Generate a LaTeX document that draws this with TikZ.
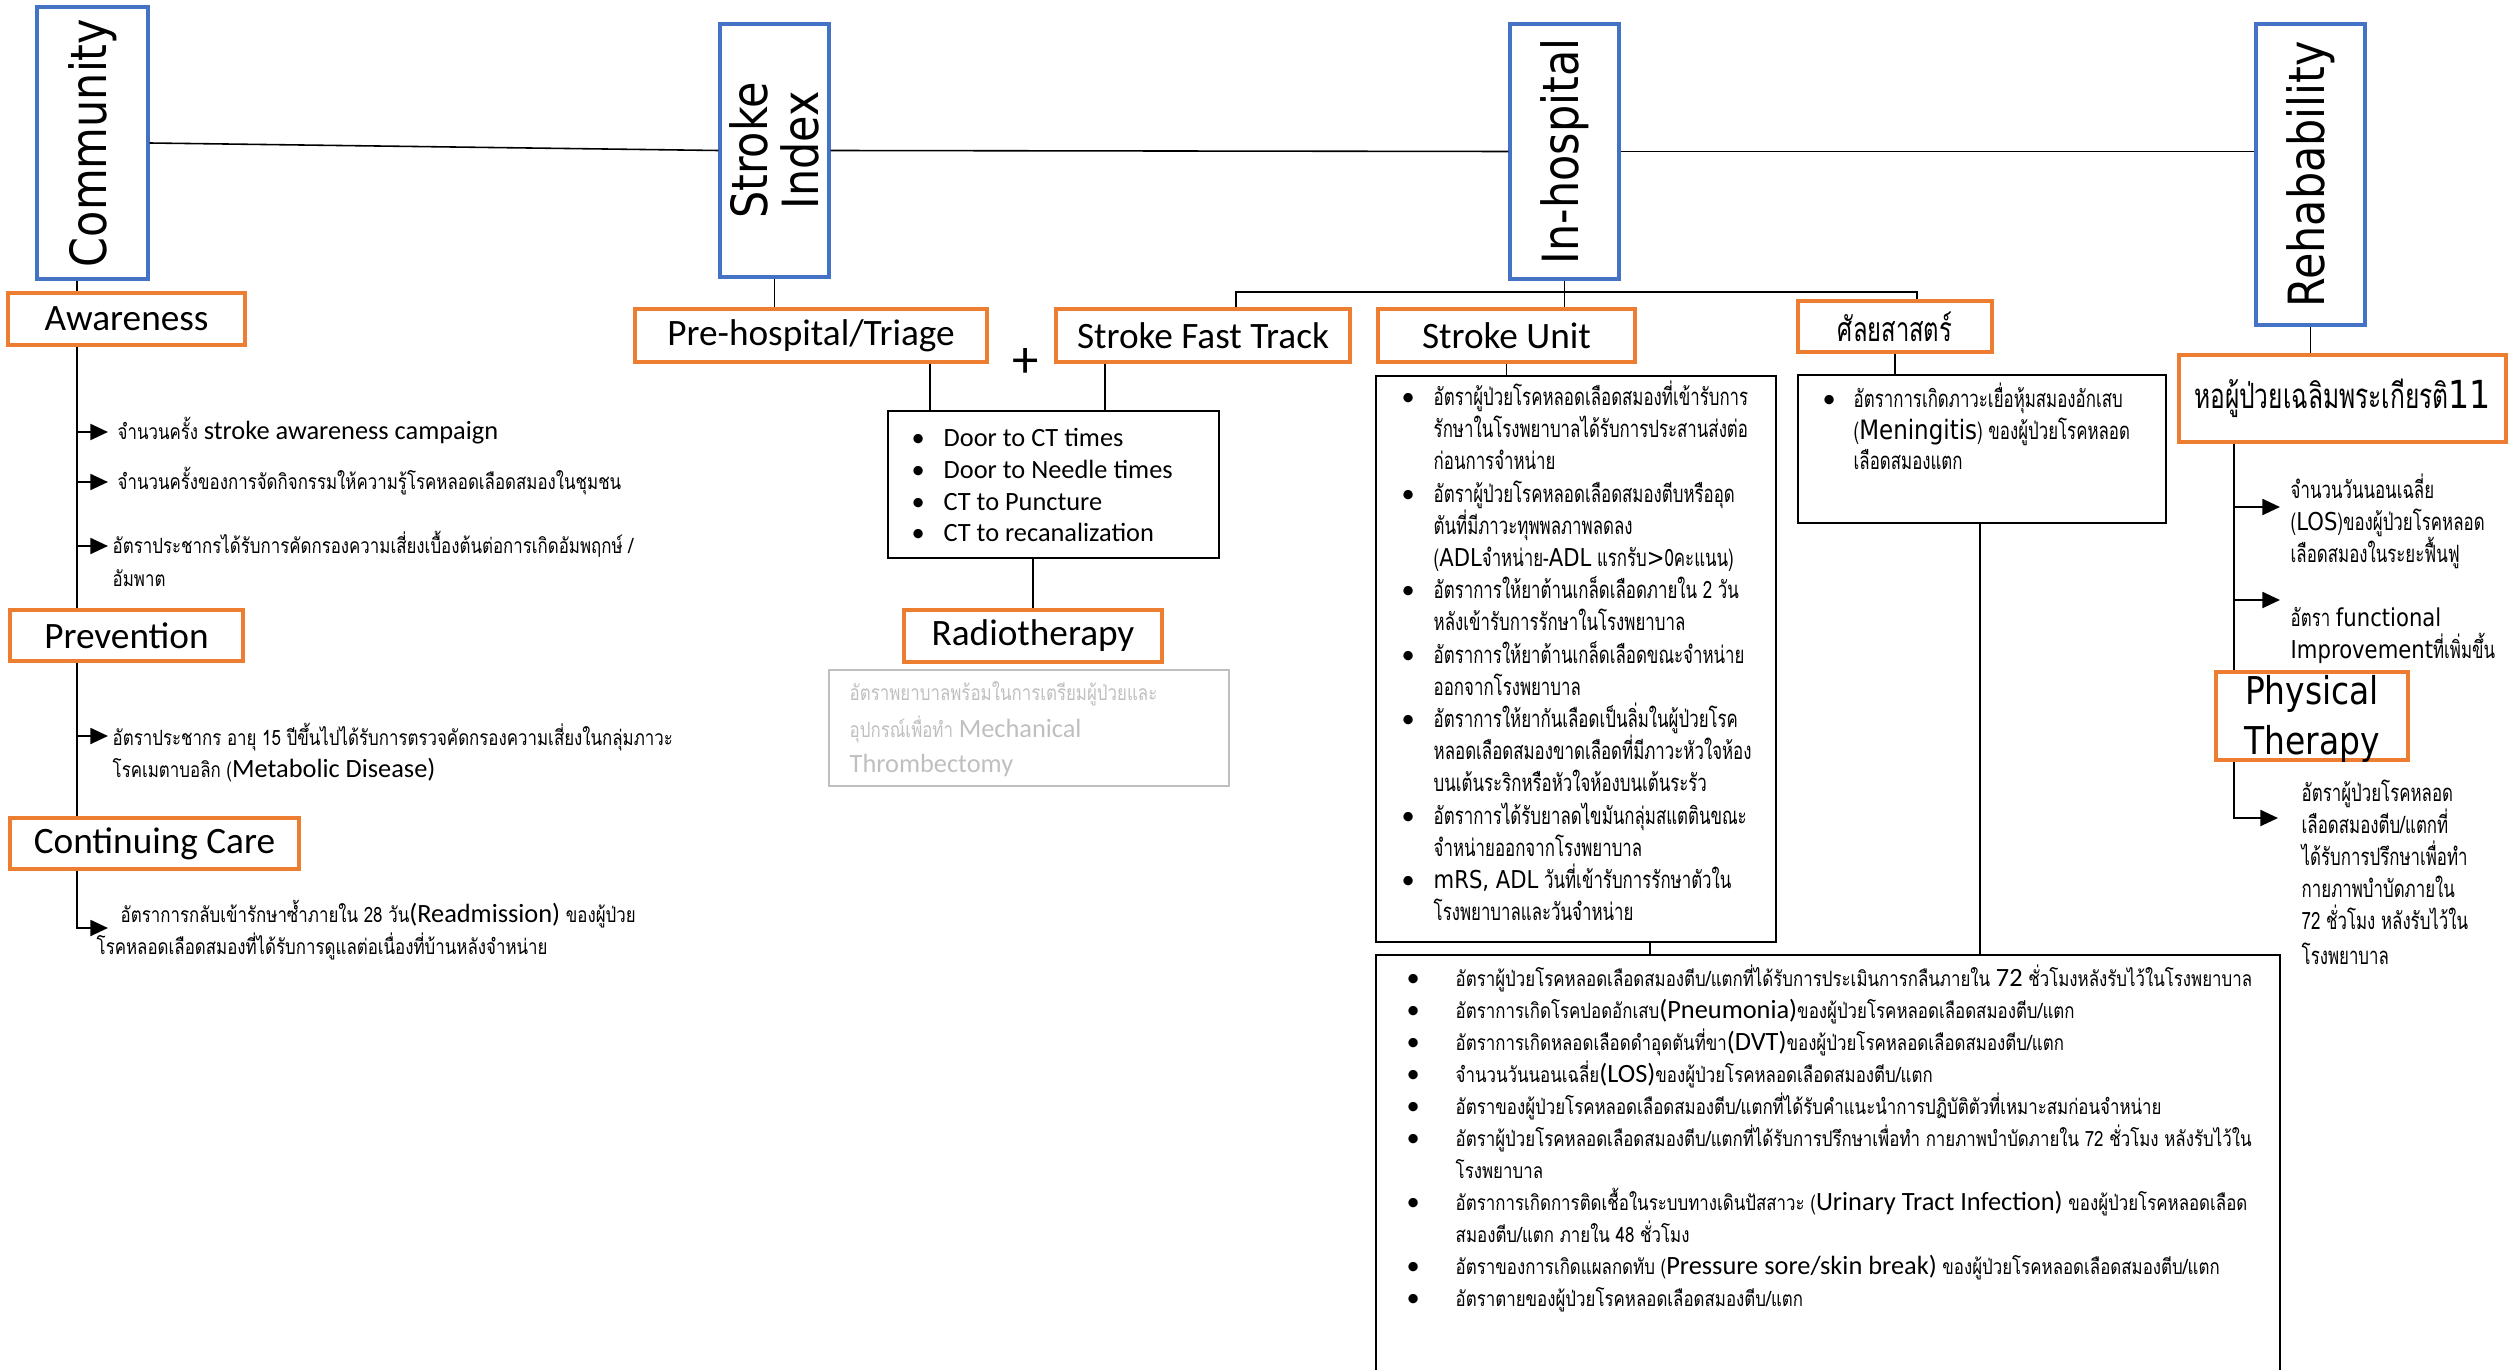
\documentclass[tikz,border=0pt]{standalone}
\usepackage{fontspec}
\usetikzlibrary{arrows.meta,fit}
\newfontfamily\tahF[FakeStretch=0.86]{DejaVu Sans}
\newfontfamily\calF{Carlito}
\newfontfamily\thaiF[Script=Thai,FakeStretch=0.705]{Loma}
\newfontfamily\thaicF[Script=Thai,FakeStretch=0.8]{Loma}
\definecolor{bblue}{HTML}{4472C4}
\definecolor{borange}{HTML}{ED7D31}
\definecolor{lgrey}{HTML}{BFBFBF}
\newcommand\enC[1]{{\calF\fontsize{7.5}{9}\selectfont #1}}
\newcommand\enT[1]{{\tahF\fontsize{7}{9}\selectfont #1}}
\newcommand\putline[4]{\node[txt,#3] (#1) at #2 {#4};}
\newcommand\bitem[6]{\node[bul] (#1b) at (#2,#4) {\textbullet};\node[txt,#5] (#1) at (#3,#4) {#6};}
\tikzset{
 bluebox/.style={draw=bblue, line width=0.9pt, inner sep=0pt},
 orbox/.style={draw=borange, line width=0.9pt, inner sep=0pt},
 olab/.style={inner sep=0pt, font=\calF\fontsize{10.6}{12}\selectfont},
 blkbox/.style={draw=black, line width=0.7pt, inner sep=0pt},
 grbox/.style={draw=lgrey, line width=0.7pt, inner sep=0pt},
 conn/.style={black, line width=0.45pt},
 arr/.style={black, line width=0.7pt, -{Triangle[length=5pt,width=4.5pt]}},
 txt/.style={inner sep=0pt, anchor=base west},
 vlab/.style={rotate=90, inner sep=0pt, font=\tahF\fontsize{14.2}{14.6}\selectfont, align=center},
 thc/.style={font=\thaicF\fontsize{6}{7}\selectfont},
 th/.style={font=\thaiF\fontsize{6.8}{7}\selectfont},
 bul/.style={inner sep=0pt, anchor=base west, font=\calF\fontsize{7.5}{9}\selectfont},
 doorf/.style={font=\calF\fontsize{7.5}{9}\selectfont},
}
\begin{document}
\begin{tikzpicture}[x=0.1mm,y=-0.1mm]
\useasboundingbox (0,0) rectangle (2509,1370);
% top level boxes
\node[bluebox, fit={(37,7)(148,279)}] (community) {};
\node[vlab] (communityT) at (community.center) {Community};
\node[bluebox, fit={(720,24)(829,277)}] (strokeidx) {};
\node[vlab] (strokeidxT) at (strokeidx.center) {Stroke\\Index};
\node[bluebox, fit={(1510,24)(1619,279)}] (inhosp) {};
\node[vlab] (inhospT) at (inhosp.center) {In-hospital};
\node[bluebox, fit={(2256,24)(2365,325)}] (rehab) {};
\node[vlab] (rehabT) at (rehab.center) {Rehabability};
\draw[conn] (community.east) -- (strokeidx.west);
\draw[conn] (strokeidx.east) -- (inhosp.west);
\draw[conn] (inhosp.east) -- (inhosp.east -| rehab.west);

% left column
\node[orbox, fit={(8,293)(245,345)}] (aware) {};
\node[olab] (awareT) at (aware.center) {Awareness};
\node[orbox, fit={(10,610)(243,661)}] (prev) {};
\node[olab] (prevT) at (prev.center) {Prevention};
\node[orbox, fit={(10,818)(299,869)}] (cont) {};
\node[olab] (contT) at (cont.center) {Continuing Care};
\coordinate (spine) at (77,0);
\draw[conn] (spine |- community.south) -- (spine |- aware.north);
\draw[conn] (spine |- aware.south) -- (spine |- prev.north);
\draw[conn] (spine |- prev.south) -- (spine |- cont.north);
\coordinate (a1) at (108,432);
\coordinate (a2) at (108,482);
\coordinate (a3) at (108,546);
\coordinate (a4) at (108,736);
\coordinate (a5) at (108,928);
\draw[arr] (spine |- a1) -- (a1);
\draw[arr] (spine |- a2) -- (a2);
\draw[arr] (spine |- a3) -- (a3);
\draw[arr] (spine |- a4) -- (a4);
\draw[arr] (spine |- cont.south) |- (a5);
\putline{l1}{(117,439)}{thc}{จำนวนครั้ง \enC{stroke awareness campaign}}
\putline{l2}{(117,489)}{thc}{จำนวนครั้งของการจัดกิจกรรมให้ความรู้โรคหลอดเลือดสมองในชุมชน}
\putline{l3}{(112,553)}{thc}{อัตราประชากรได้รับการคัดกรองความเสี่ยงเบื้องต้นต่อการเกิดอัมพฤกษ์ /}
\putline{l3b}{(112,586)}{thc}{อัมพาต}
\putline{p1}{(112,745)}{thc}{อัตราประชากร อายุ 15 ปีขึ้นไปได้รับการตรวจคัดกรองความเสี่ยงในกลุ่มภาวะ}
\putline{p2}{(112,777)}{thc}{โรคเมตาบอลิก (\enC{Metabolic Disease)}}
\putline{c1}{(120,922)}{thc}{อัตราการกลับเข้ารักษาซ้ำภายใน 28 วัน\enC{(Readmission)} ของผู้ป่วย}
\putline{c2}{(96,954)}{thc}{โรคหลอดเลือดสมองที่ได้รับการดูแลต่อเนื่องที่บ้านหลังจำหน่าย}

% stroke index branch
\node[orbox, fit={(635,309)(987,362)}] (pre) {};
\node[olab] (preT) at (pre.center) {Pre-hospital/Triage};
\node[orbox, fit={(1056,309)(1350,362)}] (sft) {};
\node[olab] (sftT) at (sft.center) {Stroke Fast Track};
\node[inner sep=0pt, font=\calF\fontsize{15}{15}\selectfont] (plus) at (1026,363) {+};
\node[blkbox, fit={(888,411)(1219,558)}] (door) {};
\node[orbox, fit={(904,610)(1162,662)}] (radio) {};
\node[olab] (radioT) at (radio.center) {Radiotherapy};
\node[grbox, fit={(829,670)(1229,786)}] (grey) {};
\draw[conn] (strokeidx.south) -- (strokeidx.south |- pre.north);
\coordinate (dA) at (930,0);
\coordinate (dB) at (1105,0);
\draw[conn] (dA |- pre.south) -- (dA |- door.north);
\draw[conn] (dB |- sft.south) -- (dB |- door.north);
\draw[conn] (radio.north |- door.south) -- (radio.north);
\bitem{d1}{911}{943}{446}{doorf}{Door to CT times}
\bitem{d2}{911}{943}{478}{doorf}{Door to Needle times}
\bitem{d3}{911}{943}{510}{doorf}{CT to Puncture}
\bitem{d4}{911}{943}{541}{doorf}{CT to recanalization}
\putline{g1}{(849,700)}{thc,text=lgrey}{อัตราพยาบาลพร้อมในการเตรียมผู้ป่วยและ}
\putline{g2}{(849,737)}{thc,text=lgrey}{อุปกรณ์เพื่อทำ \enC{Mechanical}}
\putline{g3}{(849,772)}{thc,text=lgrey}{\enC{Thrombectomy}}

% in-hospital branch
\node[orbox, fit={(1378,309)(1635,362)}] (su) {};
\node[olab] (suT) at (su.center) {Stroke Unit};
\node[orbox, fit={(1798,301)(1992,352)}] (surg) {};
\node[olab, font=\thaiF\fontsize{9.6}{10}\selectfont] (surgT) at (surg.center) {ศัลยสาสตร์};
\coordinate (brL) at (1236,292);
\coordinate (brR) at (1917,292);
\draw[conn] (inhosp.south) -- (inhosp.south |- su.north);
\draw[conn] (brL |- sft.north) -- (brL) -- (brR) -- (brR |- surg.north);
\node[blkbox, fit={(1376,376)(1776,942)}] (sulist) {};
\node[blkbox, fit={(1798,375)(2166,523)}] (surglist) {};
\node[blkbox, fit={(1376,955)(2280,1380)}] (big) {};
\draw[conn] (su.south) -- (su.south |- sulist.north);
\draw[conn] (surg.south) -- (surg.south |- surglist.north);
\coordinate (bA) at (1650,0);
\coordinate (bB) at (1980,0);
\draw[conn] (bA |- sulist.south) -- (bA |- big.north);
\draw[conn] (bB |- surglist.south) -- (bB |- big.north);

\bitem{s1}{1401}{1433}{405}{th}{อัตราผู้ป่วยโรคหลอดเลือดสมองที่เข้ารับการ}
\putline{s2}{(1433,437)}{th}{รักษาในโรงพยาบาลได้รับการประสานส่งต่อ}
\putline{s3}{(1433,469)}{th}{ก่อนการจำหน่าย}
\bitem{s4}{1401}{1433}{502}{th}{อัตราผู้ป่วยโรคหลอดเลือดสมองตีบหรืออุด}
\putline{s5}{(1433,534)}{th}{ตันที่มีภาวะทุพพลภาพลดลง}
\putline{s6}{(1433,566)}{th}{(\enT{ADL}จำหน่าย-\enT{ADL} แรกรับ\enT{>}0คะแนน)}
\bitem{s7}{1401}{1433}{598}{th}{อัตราการให้ยาต้านเกล็ดเลือดภายใน 2 วัน}
\putline{s8}{(1433,630)}{th}{หลังเข้ารับการรักษาในโรงพยาบาล}
\bitem{s9}{1401}{1433}{663}{th}{อัตราการให้ยาต้านเกล็ดเลือดขณะจำหน่าย}
\putline{s10}{(1433,695)}{th}{ออกจากโรงพยาบาล}
\bitem{s11}{1401}{1433}{727}{th}{อัตราการให้ยากันเลือดเป็นลิ่มในผู้ป่วยโรค}
\putline{s12}{(1433,759)}{th}{หลอดเลือดสมองขาดเลือดที่มีภาวะหัวใจห้อง}
\putline{s13}{(1433,791)}{th}{บนเต้นระริกหรือหัวใจห้องบนเต้นระรัว}
\bitem{s14}{1401}{1433}{824}{th}{อัตราการได้รับยาลดไขมันกลุ่มสแตตินขณะ}
\putline{s15}{(1433,856)}{th}{จำหน่ายออกจากโรงพยาบาล}
\bitem{s16}{1401}{1433}{888}{th}{\enT{mRS, ADL} วันที่เข้ารับการรักษาตัวใน}
\putline{s17}{(1433,920)}{th}{โรงพยาบาลและวันจำหน่าย}

\bitem{m1}{1822}{1853}{407}{th}{อัตราการเกิดภาวะเยื่อหุ้มสมองอักเสบ}
\putline{m2}{(1853,439)}{th}{({\tahF\fontsize{7.6}{9}\selectfont Meningitis}) ของผู้ป่วยโรคหลอด}
\putline{m3}{(1853,469)}{th}{เลือดสมองแตก}

\bitem{k0}{1406}{1455}{986}{thc}{อัตราผู้ป่วยโรคหลอดเลือดสมองตีบ/แตกที่ได้รับการประเมินการกลืนภายใน \enC{72} ชั่วโมงหลังรับไว้ในโรงพยาบาล}
\bitem{k1}{1406}{1455}{1018}{thc}{อัตราการเกิดโรคปอดอักเสบ\enC{(Pneumonia)}ของผู้ป่วยโรคหลอดเลือดสมองตีบ/แตก}
\bitem{k2}{1406}{1455}{1050}{thc}{อัตราการเกิดหลอดเลือดดำอุดตันที่ขา\enC{(DVT)}ของผู้ป่วยโรคหลอดเลือดสมองตีบ/แตก}
\bitem{k3}{1406}{1455}{1082}{thc}{จำนวนวันนอนเฉลี่ย\enC{(LOS)}ของผู้ป่วยโรคหลอดเลือดสมองตีบ/แตก}
\bitem{k4}{1406}{1455}{1114}{thc}{อัตราของผู้ป่วยโรคหลอดเลือดสมองตีบ/แตกที่ได้รับคำแนะนำการปฏิบัติตัวที่เหมาะสมก่อนจำหน่าย}
\bitem{k5}{1406}{1455}{1146}{thc}{อัตราผู้ป่วยโรคหลอดเลือดสมองตีบ/แตกที่ได้รับการปรึกษาเพื่อทำ กายภาพบำบัดภายใน 72 ชั่วโมง หลังรับไว้ใน}
\putline{k6}{(1455,1178)}{thc}{โรงพยาบาล}
\bitem{k7}{1406}{1455}{1210}{thc}{อัตราการเกิดการติดเชื้อในระบบทางเดินปัสสาวะ (\enC{Urinary Tract Infection)} ของผู้ป่วยโรคหลอดเลือด}
\putline{k8}{(1455,1242)}{thc}{สมองตีบ/แตก ภายใน 48 ชั่วโมง}
\bitem{k9}{1406}{1455}{1274}{thc}{อัตราของการเกิดแผลกดทับ (\enC{Pressure sore/skin break)} ของผู้ป่วยโรคหลอดเลือดสมองตีบ/แตก}
\bitem{k10}{1406}{1455}{1306}{thc}{อัตราตายของผู้ป่วยโรคหลอดเลือดสมองตีบ/แตก}

% rehab branch
\node[orbox, fit={(2179,355)(2506,442)}] (ho) {};
\node[olab, font=\thaiF\fontsize{9.9}{11}\selectfont] (hoT) at (ho.center) {หอผู้ป่วยเฉลิมพระเกียรติ{\tahF\fontsize{11}{12}\selectfont 11}};
\draw[conn] (rehab.south) -- (rehab.south |- ho.north);
\node[orbox, fit={(2216,672)(2408,760)}] (phys) {};
\node[inner sep=0pt, anchor=base, font=\tahF\fontsize{10.9}{12}\selectfont] (physA) at (2312,704) {Physical};
\node[inner sep=0pt, anchor=base, font=\tahF\fontsize{10.9}{12}\selectfont] (physB) at (2312,754) {Therapy};
\coordinate (rs) at (2234,0);
\draw[conn] (rs |- ho.south) -- (rs |- phys.north);
\coordinate (r1) at (2280,507);
\coordinate (r2) at (2280,600);
\coordinate (r3) at (2278,818);
\draw[arr] (rs |- r1) -- (r1);
\draw[arr] (rs |- r2) -- (r2);
\draw[arr] (rs |- phys.south) |- (r3);
\putline{ra1}{(2290,498)}{th}{จำนวนวันนอนเฉลี่ย}
\putline{ra2}{(2290,530)}{th}{(\enT{LOS})ของผู้ป่วยโรคหลอด}
\putline{ra3}{(2290,562)}{th}{เลือดสมองในระยะฟื้นฟู}
\putline{rb1}{(2290,626)}{th}{อัตรา \enT{functional}}
\putline{rb2}{(2290,658)}{th}{\enT{Improvement}ที่เพิ่มขึ้น}
\putline{rc1}{(2301,801)}{th}{อัตราผู้ป่วยโรคหลอด}
\putline{rc2}{(2301,833)}{th}{เลือดสมองตีบ/แตกที่}
\putline{rc3}{(2301,865)}{th}{ได้รับการปรึกษาเพื่อทำ}
\putline{rc4}{(2301,897)}{th}{กายภาพบำบัดภายใน}
\putline{rc5}{(2301,929)}{th}{72 ชั่วโมง หลังรับไว้ใน}
\putline{rc6}{(2301,964)}{th}{โรงพยาบาล}
\end{tikzpicture}
\end{document}
